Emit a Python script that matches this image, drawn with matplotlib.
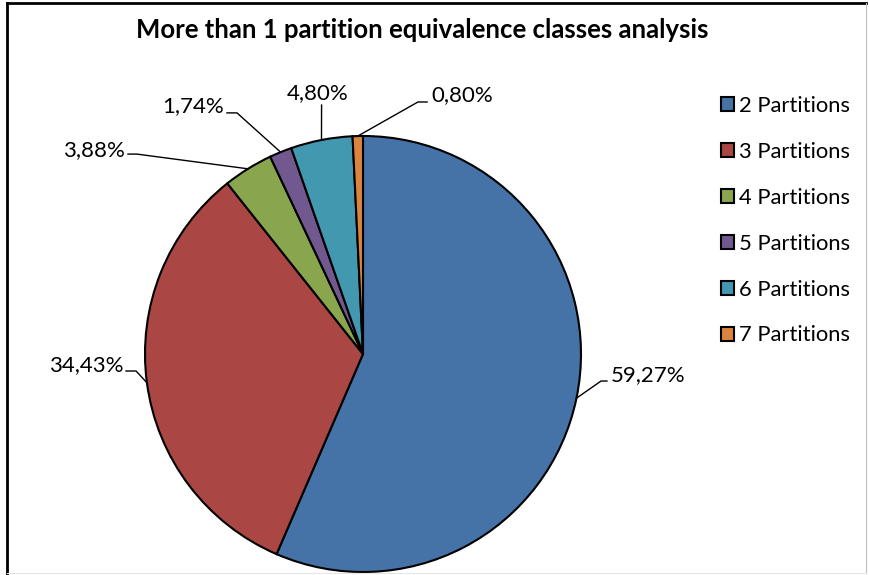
import matplotlib
matplotlib.use('Agg')
import matplotlib.pyplot as plt
import numpy as np

plt.rcParams['font.family'] = ['Lato', 'DejaVu Sans']

# data
categories = ['2 Partitions', '3 Partitions', '4 Partitions',
              '5 Partitions', '6 Partitions', '7 Partitions']
shares = [59.27, 34.43, 3.88, 1.74, 4.80, 0.80]
colors = ['#4572A7', '#AA4643', '#89A54E', '#71588F', '#4198AF', '#DB843D']

# label placement (elbow of leader line, end of leader, text anchor, alignment)
label_pos = [
    ((1.092, -0.124), (1.119, -0.124), (1.135, -0.096), 'left'),
    ((-1.041, -0.078), (-1.087, -0.078), (-1.098, -0.050), 'right'),
    ((-1.037, 0.917), (-1.078, 0.917), (-1.092, 0.936), 'right'),
    ((-0.578, 1.106), (-0.624, 1.106), (-0.640, 1.138), 'right'),
    ((-0.190, 1.142), (-0.190, 1.142), (-0.206, 1.197), 'center'),
    ((0.252, 1.156), (0.294, 1.156), (0.312, 1.188), 'left'),
]

W, H = 869, 575
fig = plt.figure(figsize=(W / 100, H / 100), dpi=100)

# chart border (left/top dark, right/bottom faint like the cropped Excel frame)
fig.add_artist(plt.Line2D([7 / W, 7 / W], [0, 1 - 3 / H], color='black', lw=2))
fig.add_artist(plt.Line2D([7 / W, 866 / W], [1 - 3 / H, 1 - 3 / H], color='black', lw=2))
fig.add_artist(plt.Line2D([866 / W, 866 / W], [2 / H, 1 - 3 / H], color='#bfbfbf', lw=0.8))
fig.add_artist(plt.Line2D([7 / W, 866 / W], [2 / H, 2 / H], color='#e6e6e6', lw=0.8))

cx, cy, r = 363, 354, 218
ax = fig.add_axes([(cx - r) / W, (H - cy - r) / H, 2 * r / W, 2 * r / H])
wedges, _ = ax.pie(shares, colors=colors, startangle=90, counterclock=False,
                   radius=1, wedgeprops=dict(edgecolor='black', linewidth=1.5))
ax.set_xlim(-1, 1)
ax.set_ylim(-1, 1)
ax.set_aspect('equal')
ax.axis('off')

for w, v, (elbow, tail, txt, ha) in zip(wedges, shares, label_pos):
    mid = np.deg2rad((w.theta1 + w.theta2) / 2)
    ex, ey = np.cos(mid), np.sin(mid)
    ax.plot([ex, elbow[0], tail[0]], [ey, elbow[1], tail[1]], color='black',
            lw=1, clip_on=False)
    ax.text(txt[0], txt[1], f'{v:.2f}%'.replace('.', ','), ha=ha, va='center',
            fontsize=16, clip_on=False)

fig.text(422 / W, 1 - 30 / H, 'More than 1 partition equivalence classes analysis',
         ha='center', va='center', fontsize=18.5, fontweight='bold')

fig.legend(wedges, categories, loc='upper left', bbox_to_anchor=(721 / W, 1 - 96 / H),
           frameon=False, fontsize=15.8, handlelength=0.6, handleheight=0.6,
           handletextpad=0.2, labelspacing=1.18, borderaxespad=0, borderpad=0)

fig.savefig('out.png', dpi=100)
